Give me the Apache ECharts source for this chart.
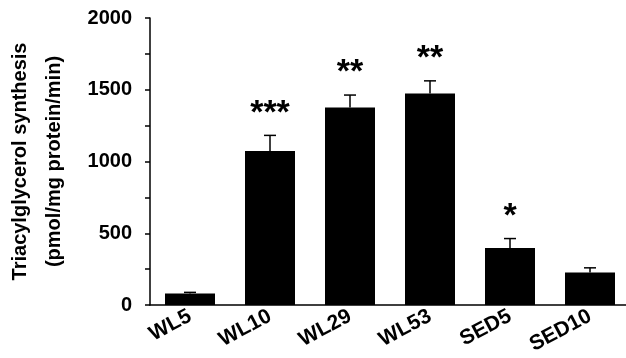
<!DOCTYPE html>
<html>
<head>
<meta charset="utf-8">
<script src="https://cdn.jsdelivr.net/npm/echarts@6/dist/echarts.min.js"></script>
<style>html,body{margin:0;padding:0;background:#fff;}#c{width:626px;height:358px;}</style>
</head>
<body>
<div id="c"></div>
<script>
var categories = ['WL5', 'WL10', 'WL29', 'WL53', 'SED5', 'SED10'];
var values = [80, 1074, 1377, 1474, 398, 227];
var errors = [8, 108, 86, 88, 65, 32];
var significance = ['', '***', '**', '**', '*', ''];
var yTicks = [0, 500, 1000, 1500, 2000];

var FONT = '"Liberation Sans", Arial, Helvetica, sans-serif';
var chart = echarts.init(document.getElementById('c'));

var errData = categories.map(function (c, i) { return [i, values[i], errors[i], significance[i]]; });

chart.setOption({
  animation: false,
  grid: { left: 150, width: 480, top: 18, height: 287, containLabel: false, outerBoundsMode: 'none' },
  xAxis: {
    type: 'category',
    data: categories,
    axisLine: { lineStyle: { color: '#000', width: 1.5 } },
    axisTick: { show: false },
    axisLabel: { rotate: 28, margin: 10, color: '#000', fontWeight: 'bold', fontSize: 21, fontFamily: FONT, interval: 0 }
  },
  yAxis: {
    type: 'value',
    min: yTicks[0],
    max: yTicks[yTicks.length - 1],
    interval: 500,
    name: 'Triacylglycerol synthesis\n(pmol/mg protein/min)',
    nameLocation: 'middle',
    nameGap: 79,
    nameTextStyle: { color: '#000', fontWeight: 'bold', fontSize: 20, fontFamily: FONT, lineHeight: 34 },
    axisLine: { show: true, lineStyle: { color: '#000', width: 1.5 } },
    axisTick: { show: true, length: 5, lineStyle: { color: '#000', width: 1.5 } },
    minorTick: { show: true, splitNumber: 2, length: 5, lineStyle: { color: '#000', width: 1.5 } },
    splitLine: { show: false },
    axisLabel: { margin: 18, color: '#000', fontWeight: 'bold', fontSize: 20, fontFamily: FONT,
      formatter: function (v) { return String(v); } }
  },
  series: [
    {
      type: 'bar',
      data: values,
      barWidth: 50,
      itemStyle: { color: '#000' }
    },
    {
      type: 'custom',
      data: errData,
      z: 5,
      renderItem: function (params, api) {
        var i = api.value(0);
        var v = api.value(1);
        var e = api.value(2);
        var sig = errData[params.dataIndex][3];
        var base = api.coord([i, v]);
        var top = api.coord([i, v + e]);
        var children = [
          { type: 'line', shape: { x1: top[0], y1: base[1], x2: top[0], y2: top[1] }, style: { stroke: '#000', lineWidth: 1.5 } },
          { type: 'line', shape: { x1: top[0] - 6, y1: top[1], x2: top[0] + 6, y2: top[1] }, style: { stroke: '#000', lineWidth: 1.5 } }
        ];
        if (sig) {
          children.push({
            type: 'text',
            style: { text: sig, x: top[0], y: top[1] - 22, align: 'center', verticalAlign: 'middle', fill: '#000', font: 'bold 34px ' + FONT }
          });
        }
        return { type: 'group', children: children };
      }
    }
  ]
});
</script>
</body>
</html>
